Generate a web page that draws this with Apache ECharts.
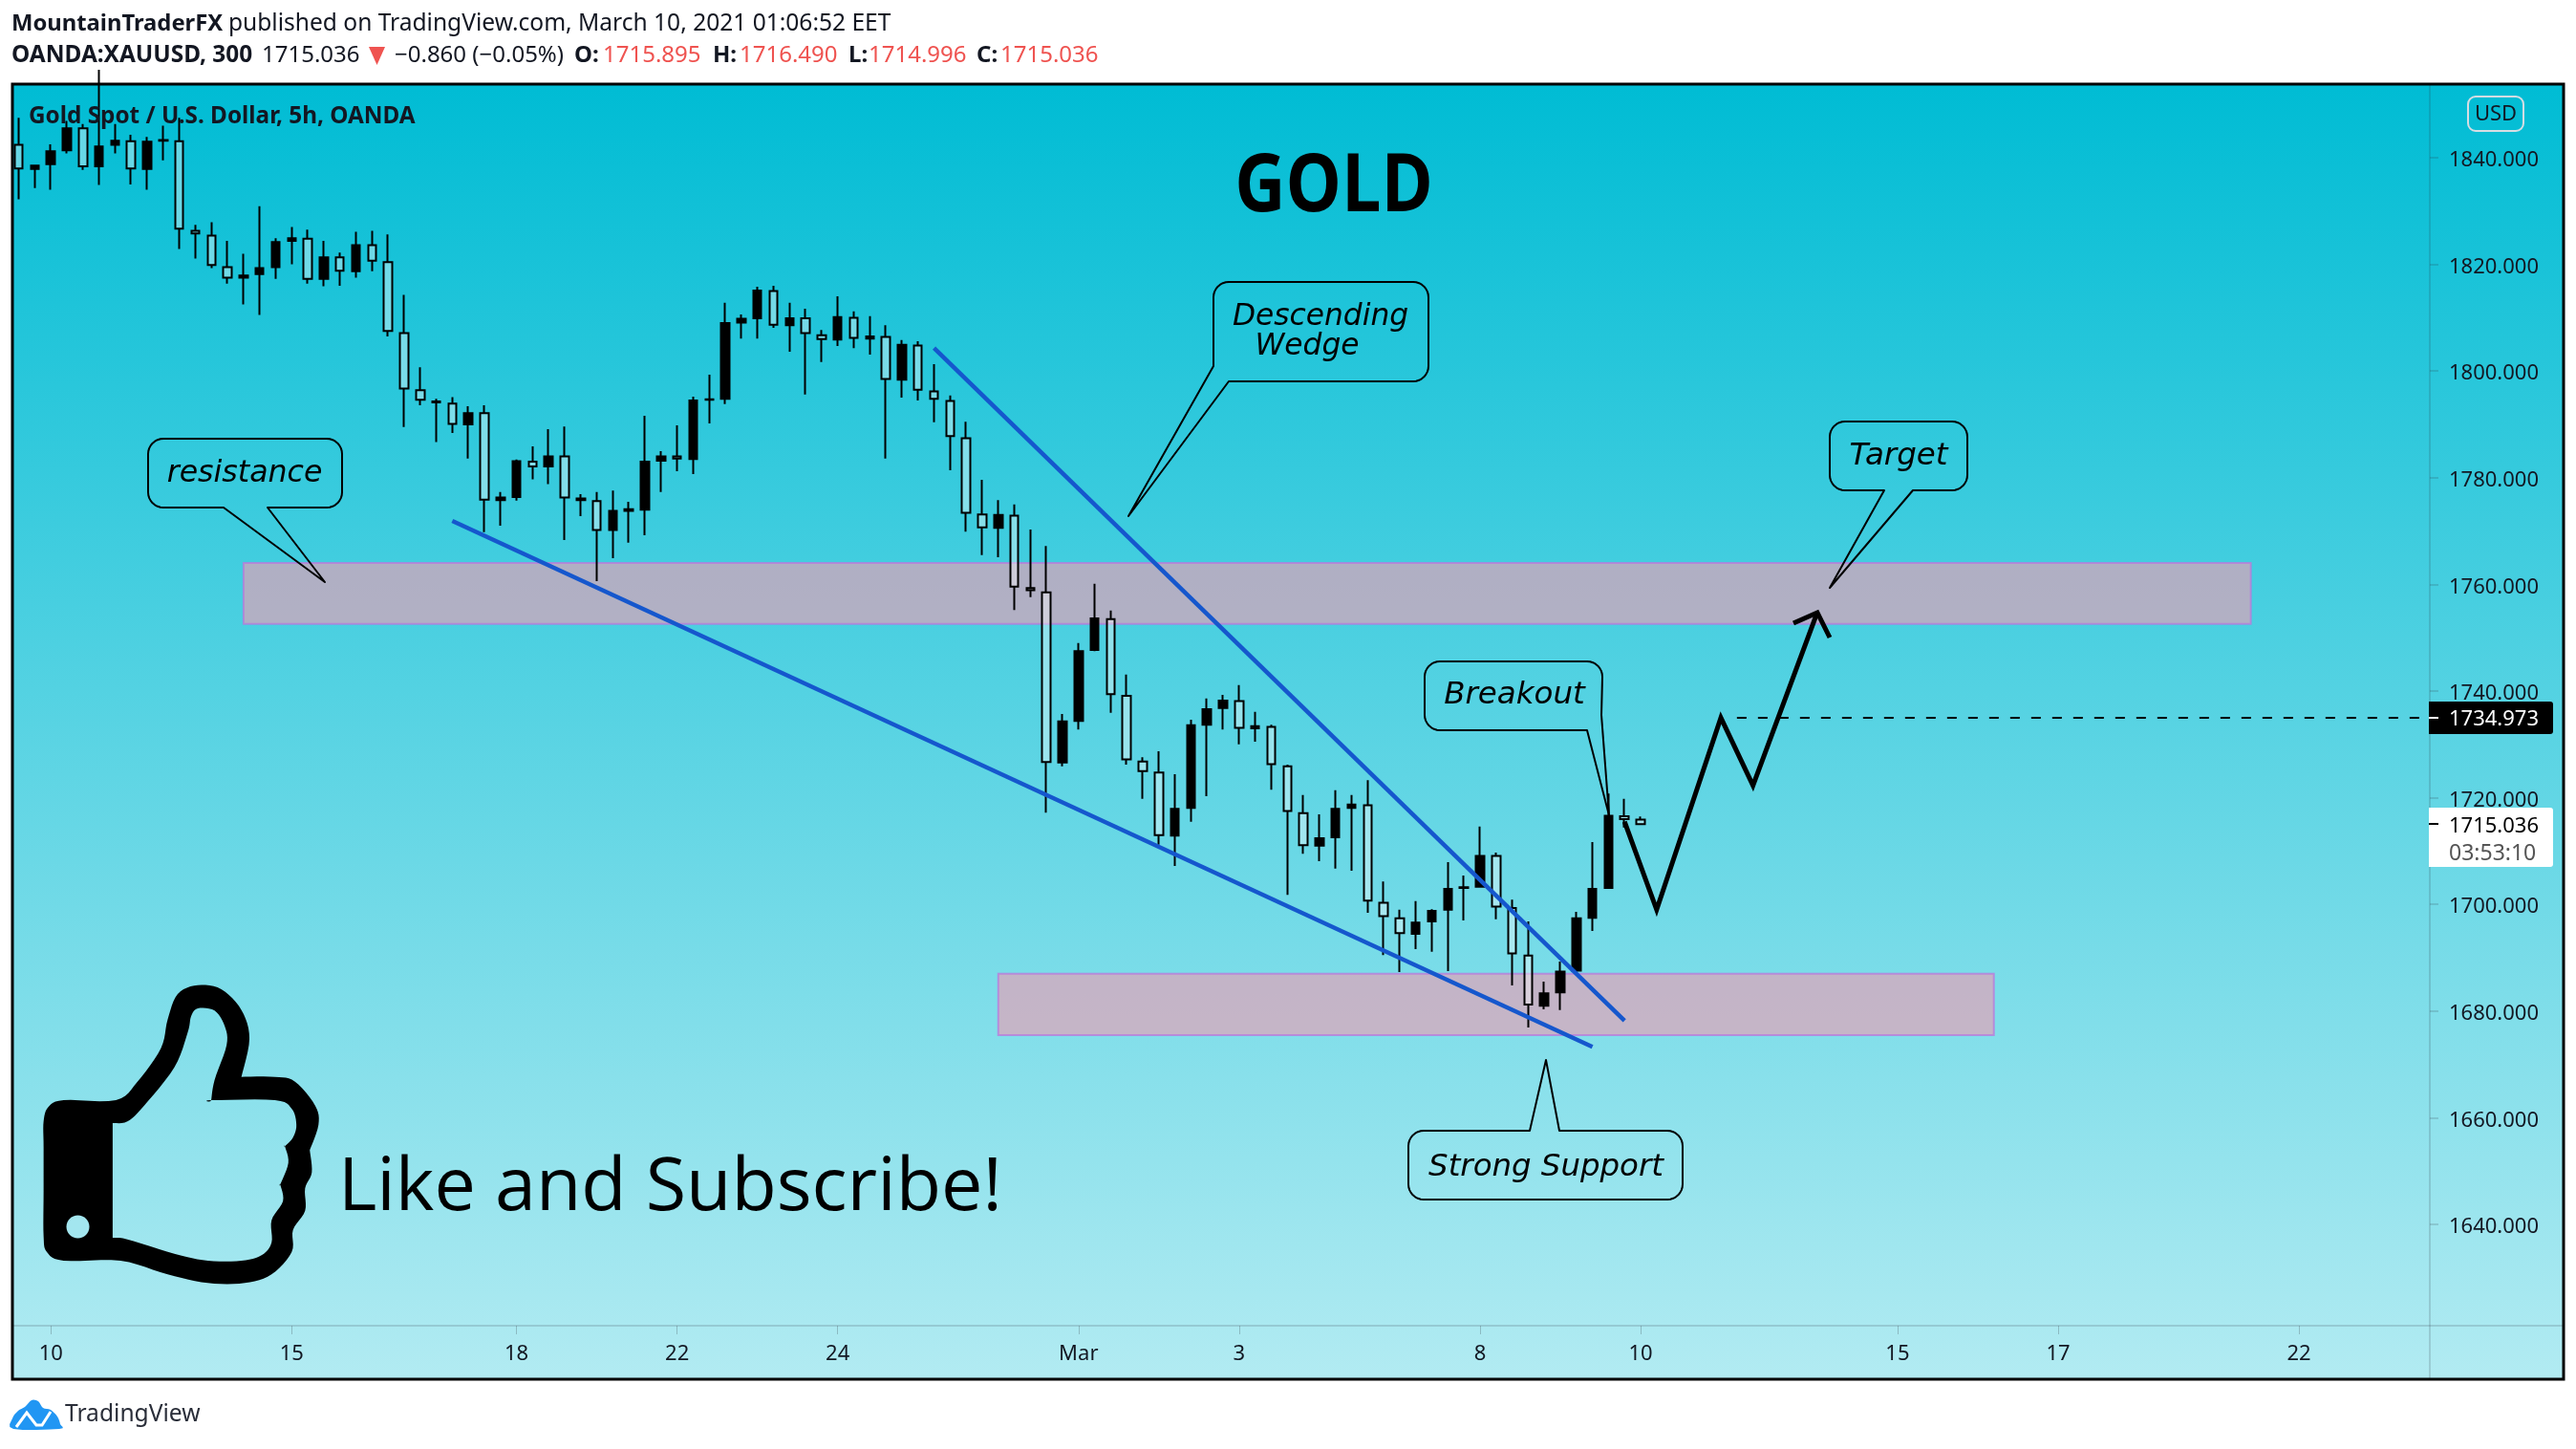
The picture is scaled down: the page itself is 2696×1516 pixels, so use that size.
<!DOCTYPE html>
<html><head><meta charset="utf-8">
<style>html,body{margin:0;padding:0;background:#fff}#c{width:2696px;height:1516px}</style>
<script src="https://cdn.jsdelivr.net/npm/echarts@6/dist/echarts.min.js"></script>
</head><body><div id="c"></div>
<script>
const opens=[1842.4,1837.9,1838.8,1841.4,1845.5,1838.4,1842.4,1843.1,1837.9,1843.2,1843.1,1826.3,1825.4,1819.5,1817.5,1818.2,1819.5,1824.4,1824.8,1817.3,1821.3,1818.7,1823.6,1820.4,1807.1,1796.4,1794.1,1793.9,1790.0,1792.1,1775.8,1776.4,1783.0,1782.1,1784.0,1775.8,1775.6,1770.2,1773.8,1774.0,1783.2,1784.0,1783.5,1794.6,1794.8,1809.1,1809.9,1815.0,1808.6,1809.9,1806.7,1805.9,1810.0,1806.1,1806.4,1798.4,1804.8,1796.2,1794.4,1787.4,1773.1,1770.6,1772.9,1759.3,1758.5,1726.6,1734.4,1747.7,1753.5,1739.1,1726.8,1724.7,1712.9,1718.1,1733.7,1736.8,1738.1,1733.0,1733.3,1725.9,1717.1,1711.0,1712.6,1718.1,1718.6,1700.3,1697.4,1694.5,1696.8,1699.0,1703.1,1703.3,1709.1,1699.3,1690.4,1681.0,1683.5,1687.6,1697.5,1703.1,1716.5,1715.895];
const closes=[1838.0,1838.5,1841.2,1845.5,1838.4,1842.1,1843.2,1838.0,1843.0,1843.3,1826.7,1825.8,1819.9,1817.5,1817.9,1819.3,1824.2,1824.9,1817.3,1821.3,1818.8,1823.6,1820.7,1807.5,1796.7,1794.6,1794.3,1790.1,1792.1,1775.9,1776.3,1783.1,1782.1,1784.0,1776.3,1776.1,1770.2,1773.8,1774.1,1783.0,1784.0,1783.6,1794.5,1794.7,1809.0,1809.8,1815.1,1808.7,1809.9,1807.1,1806.0,1810.1,1806.2,1806.5,1798.5,1804.9,1796.5,1794.8,1787.8,1773.4,1770.7,1773.0,1759.6,1758.9,1726.7,1734.3,1747.5,1753.6,1739.4,1727.2,1725.0,1713.0,1717.9,1733.6,1736.6,1738.2,1733.1,1733.4,1726.3,1717.5,1711.1,1712.4,1717.9,1718.7,1700.7,1697.8,1694.6,1696.6,1698.8,1702.9,1703.2,1709.1,1699.6,1690.8,1681.2,1683.3,1687.4,1697.4,1702.9,1716.6,1716.0,1715.036];
const lows=[1832.2,1834.3,1834.0,1840.8,1837.7,1834.9,1840.8,1835.0,1834.0,1839.5,1822.9,1821.1,1819.3,1816.4,1812.5,1810.5,1817.3,1820.0,1816.4,1815.9,1816.0,1817.5,1818.7,1806.5,1789.5,1793.6,1786.7,1788.4,1783.6,1769.8,1771.0,1775.7,1779.7,1778.8,1768.3,1772.8,1760.6,1764.9,1767.8,1769.2,1777.3,1781.2,1780.7,1790.2,1793.8,1806.1,1806.1,1808.1,1803.6,1795.6,1801.7,1804.7,1804.3,1803.1,1783.6,1795.0,1794.5,1790.4,1781.4,1769.9,1765.5,1765.1,1755.2,1757.6,1717.2,1725.9,1732.8,1747.5,1735.9,1726.2,1719.8,1711.2,1707.2,1715.5,1720.3,1732.8,1730.0,1730.5,1721.5,1701.8,1709.5,1708.1,1706.7,1706.3,1698.4,1690.5,1687.3,1691.6,1691.1,1687.5,1697.0,1703.2,1697.2,1684.8,1676.9,1680.3,1680.2,1687.3,1695.0,1702.9,1714.4,1714.996];
const highs=[1847.5,1838.7,1842.5,1846.9,1846.3,1856.5,1846.3,1844.3,1843.9,1846.0,1847.5,1827.4,1827.9,1824.4,1822.0,1830.9,1824.9,1827.0,1826.5,1824.4,1822.2,1826.1,1826.3,1825.6,1814.3,1800.7,1794.8,1795.1,1793.4,1793.6,1777.3,1783.4,1785.9,1789.1,1789.6,1776.9,1777.3,1777.6,1775.5,1791.6,1785.0,1789.8,1795.2,1799.3,1812.8,1810.6,1815.8,1816.0,1812.8,1811.7,1807.7,1814.0,1811.2,1810.3,1808.6,1805.8,1805.6,1801.3,1795.4,1790.5,1779.6,1775.8,1775.0,1770.3,1767.2,1735.7,1749.0,1760.1,1755.1,1743.1,1727.6,1728.7,1724.4,1734.6,1738.6,1739.3,1741.1,1736.1,1733.7,1726.2,1720.5,1716.9,1721.4,1720.5,1723.3,1704.3,1699.0,1700.6,1699.1,1707.9,1705.4,1714.6,1709.7,1700.9,1696.8,1685.5,1689.3,1698.6,1711.7,1720.8,1719.8,1716.49];
const barSlots=151;
const timeTickIndex=[2,17,31,41,51,66,76,91,101,117,127,142];
const timeTickLabels=['10','15','18','22','24','Mar','3','8','10','15','17','22'];
const priceTicks=[1640,1660,1680,1700,1720,1740,1760,1780,1800,1820,1840];
const wedgeLower=[[27,1771.9],[98,1673.3]];
const wedgeUpper=[[57,1804.3],[100,1678.2]];
const projection=[[100,1715.5],[102,1699],[106,1735],[108,1722.3],[112,1754.7]];
const targetPrice=[[107,1734.973],[150,1734.973]];
const resistanceZone=[14,139,1764.0,1752.6];
const supportZone=[61,123,1687.0,1675.5];
const lastPrice='1715.036', countdown='03:53:10', targetLabel='1734.973';

const FONT='"Noto Sans"', OBL='"DejaVu Sans"', INK='#131722', RED='#ef5350', AXIS='rgba(42,46,57,0.16)';
const categories=Array.from({length:barSlots},(_, i)=>{const k=timeTickIndex.indexOf(i);return k>=0?timeTickLabels[k]:'b'+i;});
const candles=opens.map((o,i)=>[o,closes[i],lows[i],highs[i]]);

const chart=echarts.init(document.getElementById('c'),null,{renderer:'canvas',width:2696,height:1516});

function T(x,y,text,o){o=o||{};const e={type:'text',z:o.z||100,silent:true,x:x,y:y,style:{text:text,fill:o.fill||INK,font:(o.style||'')+' '+(o.weight||'normal')+' '+(o.size||24)+'px '+(o.family||FONT),textAlign:o.align||'left',textVerticalAlign:'middle',verticalAlign:'middle'}};if(o.sx)e.scaleX=o.sx;return e;}
function L(x1,y1,x2,y2,c,w,z){return {type:'line',z:z||60,silent:true,shape:{x1,y1,x2,y2},style:{stroke:c,lineWidth:w}};}
function arc(cx,cy,r,a0,a1){const p=[];for(let k=0;k<=8;k++){const a=(a0+(a1-a0)*k/8)*Math.PI/180;p.push([cx+r*Math.cos(a),cy+r*Math.sin(a)]);}return p;}
function callout(x0,y0,x1,y1,r,o){o=o||{};let p=[];
  p=p.concat(arc(x0+r,y0+r,r,180,270));p=p.concat(o.top||[]);
  p=p.concat(arc(x1-r,y0+r,r,270,360));p=p.concat(o.right||[]);
  if(!o.noBR)p=p.concat(arc(x1-r,y1-r,r,0,90));p=p.concat(o.bottom||[]);
  if(!o.noBL)p=p.concat(arc(x0+r,y1-r,r,90,180));
  return {type:'polygon',z:70,silent:true,shape:{points:p},style:{fill:'rgba(0,0,0,0)',stroke:'#000',lineWidth:2,lineJoin:'round'}};}
function smooth(pts,n){const out=[],m=pts.length;for(let i=0;i<m;i++){const a=pts[(i-1+m)%m],b=pts[i],c=pts[(i+1)%m],d=pts[(i+2)%m];for(let k=0;k<n;k++){const t=k/n,t2=t*t,t3=t2*t;out.push([0,1].map(j=>0.5*(2*b[j]+(c[j]-a[j])*t+(2*a[j]-5*b[j]+4*c[j]-d[j])*t2+(3*b[j]-a[j]-3*c[j]+d[j])*t3)));}}return out;}
const iconMap=p=>[p[0]/1.425,1000+p[1]/3];
const thumbOuter=[[65,600],[65,520],[72,475],[95,453],[173,453],[205,395],[240,290],[250,200],[265,120],[295,92],[330,105],[360,170],[372,260],[360,380],[360,380],[410,380],[440,395],[470,470],[475,530],[462,610],[462,610],[465,680],[455,730],[455,800],[437,860],[435,930],[405,1000],[365,1027],[310,1027],[250,1000],[180,957],[95,957],[70,930],[65,880],[65,740]];
const thumbInner=[[168,525],[168,525],[190,520],[215,470],[260,350],[280,240],[285,190],[295,165],[320,172],[335,220],[338,280],[320,390],[315,453],[315,453],[410,453],[435,480],[442,530],[437,570],[425,598],[425,598],[430,650],[418,718],[418,718],[422,770],[405,830],[405,900],[390,940],[360,957],[310,957],[260,935],[190,890],[168,885],[168,885],[168,700]];
const outerS=smooth(thumbOuter,6).map(iconMap);
const innerS=smooth(thumbInner,6).map(iconMap).reverse();
const thumb=outerS.concat([outerS[0]],innerS,[innerS[0],outerS[0]]);
const callText=(x,y,t,size)=>T(x,y,t,{style:'italic',family:OBL,size:size,align:'center',fill:'#000'});

const graphics=[
 {type:'rect',z:-5,silent:true,shape:{x:13,y:88,width:2670,height:1355},style:{fill:new echarts.graphic.LinearGradient(0,0,0,1,[{offset:0,color:'#00bcd4'},{offset:1,color:'#b2ebf2'}])}},
 {type:'rect',z:50,silent:true,shape:{x:0,y:0,width:12,height:1516},style:{fill:'#fff'}},
 L(13,1387,2683,1387,AXIS,2), L(2543,88,2543,1443,AXIS,2),
 {type:'rect',z:90,silent:true,shape:{x:13,y:88,width:2670,height:1355},style:{fill:'rgba(0,0,0,0)',stroke:'#000',lineWidth:3}},
 // header
 T(12,25,'MountainTraderFX',{weight:'bold',size:23.8}),
 T(239,25,'published on TradingView.com, March 10, 2021 01:06:52 EET',{size:24.55}),
 T(12,58,'OANDA:XAUUSD, 300',{weight:'bold',size:24.4}),
 T(274,58,lastPrice,{size:24}),
 {type:'polygon',z:100,silent:true,shape:{points:[[386,49],[403,49],[394.5,68]]},style:{fill:RED}},
 T(413,58,'\u22120.860 (\u22120.05%)',{size:24}),
 T(601,58,'O:',{weight:'bold',size:24}),T(631,58,'1715.895',{size:24,fill:RED}),
 T(746,58,'H:',{weight:'bold',size:24}),T(774,58,'1716.490',{size:24,fill:RED}),
 T(888,58,'L:',{weight:'bold',size:24}),T(909,58,'1714.996',{size:24,fill:RED}),
 T(1022,58,'C:',{weight:'bold',size:24}),T(1047,58,'1715.036',{size:24,fill:RED}),
 T(30,122,'Gold Spot / U.S. Dollar, 5h, OANDA',{weight:'bold',size:24.3}),
 // title, promo
 T(1396,197,'GOLD',{weight:'bold',size:84,align:'center',fill:'#000',family:'"Open Sans"',sx:0.875}),
 T(354,1244,'Like and Subscribe!',{size:77.3,fill:'#000',family:'"Open Sans"'}),
 {type:'polygon',z:80,silent:true,shape:{points:thumb},style:{fill:'#000'}},
 {type:'ellipse',z:81,silent:true,shape:{cx:81.5,cy:1283.5,rx:12,ry:12},style:{fill:'#a3e6ef'}},
 // callouts
 callout(1270,295,1495,399,16,{noBL:true,bottom:[[1286,399],[1181,540],[1270,383]]}),
 callText(1382,332,'Descending',31.3),
 callText(1368,363,'Wedge',31.3),
 callout(155,459,358,531,16,{bottom:[[280,531],[340,609],[234,531]]}),
 callText(256,496,'resistance',31.6),
 callout(1915,441,2059,513,16,{bottom:[[2002,513],[1915,615],[1972,513]]}),
 callText(1987,478,'Target',32.5),
 callout(1491,692,1677,764,16,{noBR:true,right:[[1676,748],[1684,853],[1661,764]]}),
 callText(1585,728,'Breakout',32.5),
 callout(1474,1183,1761,1255,16,{top:[[1601,1183],[1618,1109],[1632,1183]]}),
 callText(1618,1222,'Strong Support',32.4),
 // arrow head
 {type:'polyline',z:70,silent:true,shape:{points:[[1877,652],[1902,641],[1915,667]]},style:{stroke:'#000',lineWidth:5,fill:'none',lineJoin:'miter'}},
 // right axis badges
 {type:'rect',z:100,silent:true,shape:{x:2583,y:101,width:58,height:36,r:8},style:{fill:'rgba(0,0,0,0)',stroke:'#d6dde3',lineWidth:2}},
 T(2612,120,'USD',{size:22,align:'center'}),
 {type:'rect',z:100,silent:true,shape:{x:2542,y:734,width:130,height:34,r:[0,3,3,0]},style:{fill:'#000'}},
 L(2542,751,2552,751,'#fff',2,101),
 T(2563,753,targetLabel,{size:22,fill:'#fff',z:101}),
 {type:'rect',z:100,silent:true,shape:{x:2542,y:845,width:130,height:62,r:[0,3,3,0]},style:{fill:'#fff'}},
 L(2542,862,2552,862,'#000',2,101),
 T(2563,865,lastPrice,{size:22,fill:'#000',z:101}),
 T(2563,893,countdown,{size:23,fill:'#555',z:101}),
 // footer logo
 {type:'polygon',z:100,silent:true,shape:{points:smooth([[14,1495],[13,1484],[19,1476],[26,1472],[33,1465],[40,1466],[45,1473],[53,1475],[60,1482],[63,1490],[62,1495]],4)},style:{fill:'#2196f3'}},
 {type:'polyline',z:101,silent:true,shape:{points:[[17,1493],[28,1478],[38,1491],[44,1491],[53,1477]]},style:{stroke:'#fff',lineWidth:3,fill:'none'}},
 T(68,1480,'TradingView',{size:24.6,fill:'#2a2e39'})
];

function zoneSeries(name,z){return {name:name,type:'line',z:1,data:[],silent:true,animation:false,
  markArea:{silent:true,animation:false,itemStyle:{color:'rgba(232,160,180,0.66)',borderColor:'rgba(186,120,220,0.75)',borderWidth:2},
   data:[[{xAxis:z[0],yAxis:z[2]},{xAxis:z[1],yAxis:z[3]}]]}};}
function lineSeries(name,data,o){return {name:name,type:'line',data:data,z:o.z||5,symbol:'none',showSymbol:false,silent:true,animation:false,clip:false,
  lineStyle:{color:o.color,width:o.width,type:o.dash||'solid',join:'miter',cap:'butt'}};}

chart.setOption({
 animation:false,backgroundColor:'#ffffff',
 graphic:{elements:graphics},
 grid:{left:11.2,top:88,width:151*16.806,height:1299,containLabel:false},
 xAxis:{type:'category',data:categories,boundaryGap:true,axisLine:{show:false},
   axisTick:{show:true,length:9,alignWithLabel:true,interval:i=>timeTickIndex.includes(i),lineStyle:{color:'rgba(42,46,57,0.25)',width:1}},
   axisLabel:{interval:i=>timeTickIndex.includes(i),margin:19,fontFamily:FONT,fontSize:22,color:INK,
     formatter:(v)=>v,fontWeight:'normal',hideOverlap:false},splitLine:{show:false}},
 yAxis:{type:'value',position:'right',offset:-5.9,min:1621,max:1853.8,scale:true,axisLine:{show:false},splitLine:{show:false},
   axisTick:{show:true,length:9,customValues:priceTicks,lineStyle:{color:AXIS,width:2}},
   axisLabel:{customValues:priceTicks,margin:20,fontFamily:FONT,fontSize:22,color:INK,
     rich:{p:{fontFamily:FONT,fontSize:22,color:INK,padding:[6,0,0,0]}},
     formatter:v=>'{p|'+v.toFixed(3)+'}'}},
 series:[
  zoneSeries('Resistance zone',resistanceZone),
  zoneSeries('Support zone',supportZone),
  {name:'XAUUSD',type:'candlestick',data:candles,z:3,barWidth:9,silent:true,animation:false,
   itemStyle:{color:'#000',color0:'rgba(255,255,255,0.38)',borderColor:'#000',borderColor0:'#000',borderWidth:2}},
  lineSeries('Wedge lower',wedgeLower,{color:'#1557cd',width:4.5}),
  lineSeries('Wedge upper',wedgeUpper,{color:'#1557cd',width:4.5}),
  lineSeries('Projection',projection,{color:'#000',width:5,z:6}),
  lineSeries('Target level',targetPrice,{color:'#000',width:2,dash:[10,12],z:6})
 ]
});
</script></body></html>
